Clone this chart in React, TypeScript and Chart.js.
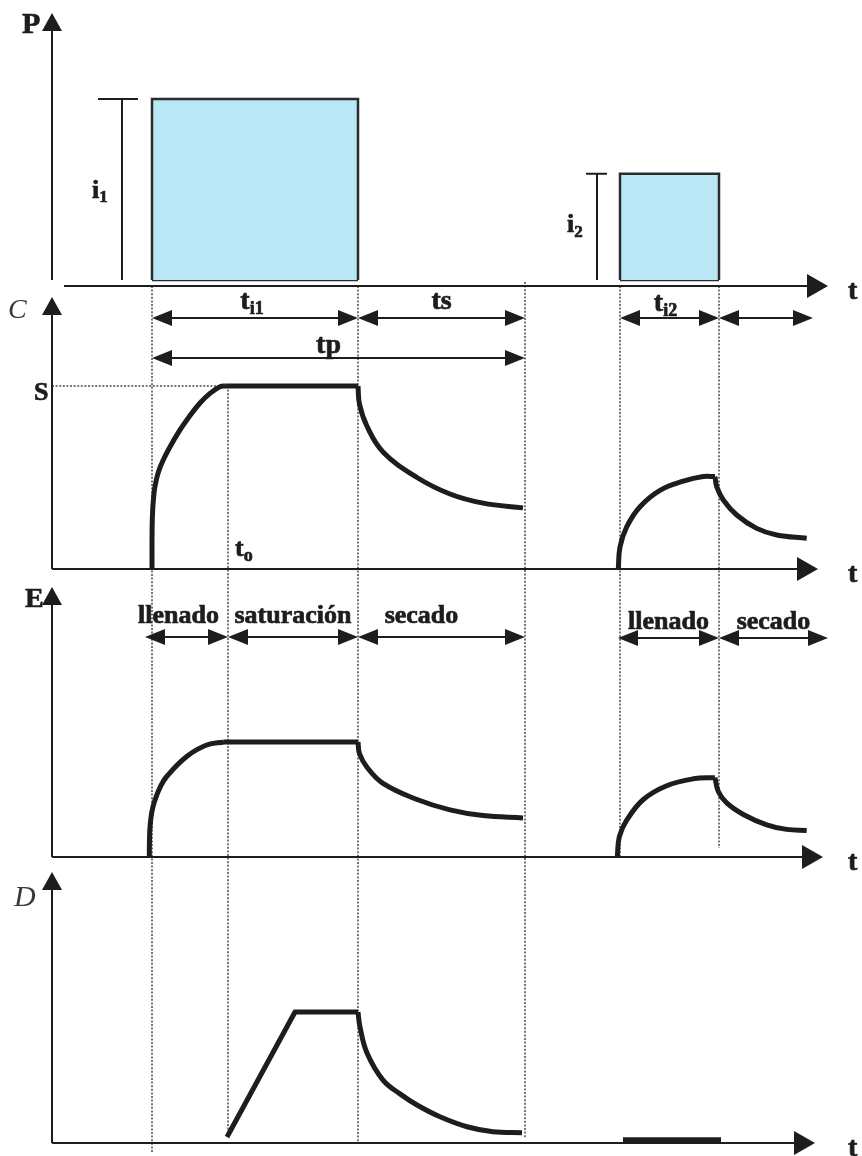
import React, { useEffect, useRef } from 'react';
import { Chart, registerables } from 'chart.js';
Chart.register(...registerables);

const W = 862;
const H = 1156;

// ---- data (time in arbitrary minutes, values in relative units) ----
const stormStart = [10, 56.8];
const stormEnd = [30.6, 66.7];
const intensity = [30, 17.6];
const saturationTime = 17.6; // t_o
const dryEnd = [47.3, 76.1];
const fillStartE = [9.3, 56.6];
const dryEndE = [47.3, 77.6];
const S = 1;

// C: first storm (rise, then saturation plateau, then drying)
const cRiseT1 = [10, 10.03, 10.2, 10.45, 10.74, 11.13, 11.68, 12.8, 13.7, 14.8, 15.8, 16.8, 17.4];
const cRiseV1 = [0, 0.273, 0.415, 0.492, 0.546, 0.596, 0.656, 0.76, 0.831, 0.907, 0.96, 0.996, 1];
const cDecT1 = [30.6, 30.75, 31.5, 33.1, 36.5, 39.8, 43.1, 47.1];
const cDecV1 = [1, 0.9, 0.78, 0.64, 0.5, 0.41, 0.36, 0.334];
// C: second storm
const cRiseT2 = [56.63, 56.8, 57.47, 58.8, 60.8, 63.13, 65.13, 66.3];
const cRiseV2 = [0, 0.12, 0.23, 0.34, 0.43, 0.48, 0.505, 0.505];
const cDecT2 = [66.3, 66.47, 67.13, 68.47, 70.47, 72.47, 75.47];
const cDecV2 = [0.505, 0.45, 0.377, 0.295, 0.222, 0.186, 0.168];

// E: first storm
const eRiseT1 = [9.73, 9.745, 9.8, 9.98, 10.3, 10.83, 11.47, 13.47, 15.47, 17.2];
const eRiseV1 = [0, 0.13, 0.26, 0.39, 0.496, 0.61, 0.7, 0.874, 0.974, 1];
const eDecT1 = [30.6, 30.75, 31.5, 33.1, 36.5, 39.8, 43.1, 47.1];
const eDecV1 = [1, 0.9, 0.78, 0.64, 0.5, 0.41, 0.36, 0.34];
// E: second storm
const eRiseT2 = [56.53, 56.73, 57.47, 59.13, 61.47, 64.13, 66.3];
const eRiseV2 = [0, 0.176, 0.32, 0.5, 0.62, 0.68, 0.69];
const eDecT2 = [66.3, 66.63, 67.47, 69.13, 71.47, 73.47, 75.47];
const eDecV2 = [0.69, 0.57, 0.47, 0.37, 0.28, 0.24, 0.23];

// D
const dRiseT = [17.5, 24.3, 30.6];
const dRiseV = [0.046, 1, 1];
const dDecT = [30.6, 30.8, 31.5, 33.1, 34.8, 36.5, 38.8, 41.5, 44.1, 47.0];
const dDecV = [1, 0.885, 0.687, 0.48, 0.375, 0.29, 0.2, 0.124, 0.086, 0.079];
const dT2 = [57.1, 66.9];
const dV2 = [0.025, 0.025];

// ---- styling / layout ----
const FONT = '"Liberation Serif", "Times New Roman", serif';
const INK = '#1d1d1d';
const DOT = '#4a4a4a';
const BAR_FILL = 'rgb(186,231,246)';

function range(basePx: number, topPx: number, topVal: number) {
  const k = (basePx - topPx) / topVal;
  return { min: -(H - basePx) / k, max: basePx / k };
}

const pts = (ts: number[], vs: number[]) => ts.map((t, i) => ({ x: t, y: vs[i] }));

function curve(label: string, ts: number[], vs: number[], axis: string, smooth = true, extra: any = {}) {
  return {
    label,
    data: pts(ts, vs),
    yAxisID: axis,
    borderColor: INK,
    borderWidth: 5,
    pointRadius: 0,
    fill: false,
    tension: smooth ? 0.4 : 0,
    cubicInterpolationMode: 'default',
    borderJoinStyle: 'round',
    borderCapStyle: 'butt',
    ...extra,
  };
}

function tri(ctx: CanvasRenderingContext2D, tx: number, ty: number, dir: string, len: number, half: number) {
  ctx.beginPath();
  ctx.moveTo(tx, ty);
  if (dir === 'right') {
    ctx.lineTo(tx - len, ty - half);
    ctx.lineTo(tx - len, ty + half);
  } else if (dir === 'left') {
    ctx.lineTo(tx + len, ty - half);
    ctx.lineTo(tx + len, ty + half);
  } else {
    ctx.lineTo(tx - half, ty + len);
    ctx.lineTo(tx + half, ty + len);
  }
  ctx.closePath();
  ctx.fill();
}

function dbl(ctx: CanvasRenderingContext2D, x1: number, x2: number, y: number) {
  const len = 20, half = 8;
  ctx.lineWidth = 2;
  ctx.beginPath();
  ctx.moveTo(x1 + len - 2, y);
  ctx.lineTo(x2 - len + 2, y);
  ctx.stroke();
  tri(ctx, x1, y, 'left', len, half);
  tri(ctx, x2, y, 'right', len, half);
}

function txt(ctx: CanvasRenderingContext2D, s: string, x: number, y: number, font: string, align: CanvasTextAlign = 'left', color = INK, heavy = true) {
  ctx.font = font;
  ctx.fillStyle = color;
  ctx.textAlign = align;
  ctx.textBaseline = 'alphabetic';
  ctx.fillText(s, x, y);
  if (heavy) {
    ctx.strokeStyle = color;
    ctx.lineWidth = 0.7;
    ctx.lineJoin = 'round';
    ctx.strokeText(s, x, y);
  }
}

function subTxt(ctx: CanvasRenderingContext2D, main: string, sub: string, x: number, y: number, size: number, subSize: number, align: string) {
  ctx.font = `bold ${size}px ${FONT}`;
  const w1 = ctx.measureText(main).width;
  ctx.font = `bold ${subSize}px ${FONT}`;
  const w2 = ctx.measureText(sub).width;
  const left = align === 'center' ? x - (w1 + w2) / 2 : x;
  txt(ctx, main, left, y, `bold ${size}px ${FONT}`);
  txt(ctx, sub, left + w1, y + size * 0.18, `bold ${subSize}px ${FONT}`);
}

const AXES = [
  { id: 'yP', tipY: 13, offset: 6, tipX: 828, hStart: 64 },
  { id: 'yC', tipY: 297, offset: 0, tipX: 818, hStart: 0 },
  { id: 'yE', tipY: 587, offset: 0, tipX: 823, hStart: 0 },
  { id: 'yD', tipY: 872, offset: 0, tipX: 815, hStart: 0 },
];

const decor = {
  id: 'decor',
  beforeDatasetsDraw(chart: any) {
    const ctx: CanvasRenderingContext2D = chart.ctx;
    const xs = chart.scales.x;
    const X = (t: number) => xs.getPixelForValue(t);
    const { yP, yC, yE, yD } = chart.scales;
    const ox = X(0);
    const pAxis = yP.getPixelForValue(0) + 6;
    const eAxis = yE.getPixelForValue(0);
    const dAxis = yD.getPixelForValue(0);
    const sy = yC.getPixelForValue(S);
    ctx.save();
    // dotted guides
    ctx.strokeStyle = DOT;
    ctx.lineWidth = 1.5;
    ctx.setLineDash([2, 1.6]);
    const vline = (x: number, y1: number, y2: number) => {
      ctx.beginPath();
      ctx.moveTo(x, y1);
      ctx.lineTo(x, y2);
      ctx.stroke();
    };
    vline(X(stormStart[0]), pAxis, H - 4);
    vline(X(saturationTime), sy, dAxis - 6);
    vline(X(stormEnd[0]), pAxis, dAxis);
    vline(X(dryEnd[0]), pAxis - 4, dAxis - 5);
    vline(X(stormStart[1]), pAxis, eAxis);
    vline(X(stormEnd[1]), pAxis, eAxis - 9);
    ctx.beginPath();
    ctx.moveTo(ox, sy);
    ctx.lineTo(X(saturationTime), sy);
    ctx.stroke();
    ctx.setLineDash([]);

    // axes
    ctx.strokeStyle = INK;
    ctx.fillStyle = INK;
    ctx.lineWidth = 2;
    AXES.forEach((a) => {
      const sc = chart.scales[a.id];
      const base = sc.getPixelForValue(0);
      const ay = base + a.offset;
      ctx.beginPath();
      ctx.moveTo(ox, a.tipY + 15);
      ctx.lineTo(ox, base);
      ctx.stroke();
      tri(ctx, ox, a.tipY, 'up', 18, 10);
      ctx.beginPath();
      ctx.moveTo(a.hStart || ox, ay);
      ctx.lineTo(a.tipX - 18, ay);
      ctx.stroke();
      tri(ctx, a.tipX, ay, 'right', 21, 12);
    });
    ctx.restore();
  },
  afterDatasetsDraw(chart: any) {
    const ctx: CanvasRenderingContext2D = chart.ctx;
    const xs = chart.scales.x;
    const X = (t: number) => xs.getPixelForValue(t);
    const { yP, yC, yE, yD } = chart.scales;
    const pBase = yP.getPixelForValue(0);
    const pAxis = pBase + 6;
    const cAxis = yC.getPixelForValue(0);
    const eAxis = yE.getPixelForValue(0);
    const dAxis = yD.getPixelForValue(0);
    ctx.save();
    ctx.strokeStyle = INK;
    ctx.fillStyle = INK;

    // intensity brackets
    ctx.lineWidth = 2;
    const brackets = [
      { t: stormStart[0], dx: -30, capL: 24, capR: 16 },
      { t: stormStart[1], dx: -23, capL: 11, capR: 10 },
    ];
    brackets.forEach((b, i) => {
      const bx = X(b.t) + b.dx;
      const top = yP.getPixelForValue(intensity[i]);
      ctx.beginPath();
      ctx.moveTo(bx, top);
      ctx.lineTo(bx, pBase);
      ctx.moveTo(bx - b.capL, top);
      ctx.lineTo(bx + b.capR, top);
      ctx.stroke();
    });

    // duration arrows
    const row1 = pAxis + 32;
    const row2 = pAxis + 72;
    dbl(ctx, X(stormStart[0]), X(stormEnd[0]), row1);
    dbl(ctx, X(stormEnd[0]), X(dryEnd[0]), row1);
    dbl(ctx, X(stormStart[0]), X(dryEnd[0]), row2);
    dbl(ctx, X(stormStart[1]), X(stormEnd[1]), row1);
    dbl(ctx, X(stormEnd[1]), X(dryEnd[1]), row1);
    const rowE = cAxis + 68;
    dbl(ctx, X(fillStartE[0]), X(saturationTime), rowE);
    dbl(ctx, X(saturationTime), X(stormEnd[0]), rowE);
    dbl(ctx, X(stormEnd[0]), X(dryEndE[0]), rowE);
    dbl(ctx, X(fillStartE[1]), X(stormEnd[1]), rowE + 1);
    dbl(ctx, X(stormEnd[1]), X(dryEndE[1]), rowE + 1);

    // axis labels
    txt(ctx, 'P', 22, 33, `bold 30px ${FONT}`);
    txt(ctx, 'C', 8, 318, `italic 28px ${FONT}`, 'left', '#3a3a3a', false);
    txt(ctx, 'E', 25, 607, `bold 28px ${FONT}`);
    txt(ctx, 'D', 14, 906, `italic 30px ${FONT}`, 'left', '#3a3a3a', false);
    [pAxis, cAxis, eAxis, dAxis].forEach((ay) => txt(ctx, 't', 848, ay + 13, `bold 28px ${FONT}`));
    txt(ctx, 'S', 34, yC.getPixelForValue(S) + 14, `bold 26px ${FONT}`);

    // intensity labels
    subTxt(ctx, 'i', '1', 92, (yP.getPixelForValue(intensity[0]) + pBase) / 2 + 8, 26, 17, 'left');
    subTxt(ctx, 'i', '2', 567, (yP.getPixelForValue(intensity[1]) + pBase) / 2 + 5, 26, 17, 'left');

    // duration labels
    subTxt(ctx, 't', 'i1', (X(stormStart[0]) + X(stormEnd[0])) / 2 - 3, row1 - 9, 28, 18, 'center');
    txt(ctx, 'ts', (X(stormEnd[0]) + X(dryEnd[0])) / 2, row1 - 9, `bold 28px ${FONT}`, 'center');
    txt(ctx, 'tp', (X(stormStart[0]) + X(dryEnd[0])) / 2 - 10, row2 - 5, `bold 28px ${FONT}`, 'center');
    subTxt(ctx, 't', 'i2', (X(stormStart[1]) + X(stormEnd[1])) / 2 - 4, row1 - 7, 28, 18, 'center');
    subTxt(ctx, 't', 'o', X(saturationTime) + 7, cAxis - 13, 26, 18, 'left');

    // phase labels
    const f = `bold 26px ${FONT}`;
    txt(ctx, 'llenado', (X(fillStartE[0]) + X(saturationTime)) / 2 - 8, rowE - 14, f, 'center');
    txt(ctx, 'saturación', (X(saturationTime) + X(stormEnd[0])) / 2, rowE - 14, f, 'center');
    txt(ctx, 'secado', (X(stormEnd[0]) + X(dryEndE[0])) / 2 - 20, rowE - 14, f, 'center');
    txt(ctx, 'llenado', (X(fillStartE[1]) + X(stormEnd[1])) / 2, rowE - 8, f, 'center');
    txt(ctx, 'secado', (X(stormEnd[1]) + X(dryEndE[1])) / 2, rowE - 8, f, 'center');
    ctx.restore();
  },
};

function phases(name: string, axis: string, rt: number[], rv: number[], dt: number[], dv: number[]) {
  const out: any[] = [curve(`${name} llenado`, rt, rv, axis), curve(`${name} secado`, dt, dv, axis)];
  const rEnd = rt[rt.length - 1];
  const dStart = dt[0];
  if (dStart > rEnd) {
    out.push(curve(`${name} saturación`, [rEnd, dStart], [rv[rv.length - 1], dv[0]], axis, false));
  }
  return out;
}

export default function App() {
  const ref = useRef<HTMLCanvasElement | null>(null);
  useEffect(() => {
    document.body.style.margin = '0';
    if (!ref.current) return;
    const rP = range(280, 99, intensity[0]);
    const rC = range(569, 386, S);
    const rE = range(857, 742, 1);
    const rD = range(1143, 1012, 1);

    const bars: any[] = [];
    stormStart.forEach((s, i) => {
      bars.push({
        label: `lluvia ${i + 1}`,
        yAxisID: 'yP',
        data: pts([s, s, stormEnd[i], stormEnd[i]], [0, intensity[i], intensity[i], 0]),
        borderColor: '#2b2b2b',
        borderWidth: 2.5,
        backgroundColor: BAR_FILL,
        fill: 'origin',
        pointRadius: 0,
        tension: 0,
      });
      bars.push({
        label: `base ${i + 1}`,
        yAxisID: 'yP',
        data: pts([s, stormEnd[i]], [0, 0]),
        borderColor: '#2b2b2b',
        borderWidth: 2.5,
        fill: false,
        pointRadius: 0,
      });
    });

    const chart = new Chart(ref.current, {
      type: 'line',
      data: {
        datasets: [
          ...bars,
          ...phases('C1', 'yC', cRiseT1, cRiseV1, cDecT1, cDecV1),
          ...phases('C2', 'yC', cRiseT2, cRiseV2, cDecT2, cDecV2),
          ...phases('E1', 'yE', eRiseT1, eRiseV1, eDecT1, eDecV1),
          ...phases('E2', 'yE', eRiseT2, eRiseV2, eDecT2, eDecV2),
          curve('D1 subida', dRiseT, dRiseV, 'yD', false),
          curve('D1 secado', dDecT, dDecV, 'yD'),
          curve('D2', dT2, dV2, 'yD', false),
        ] as any,
      },
      options: {
        responsive: false,
        animation: false,
        events: [],
        layout: { padding: { left: 52, right: 10, top: 0, bottom: 0 } },
        plugins: { legend: { display: false }, tooltip: { enabled: false }, title: { display: false } },
        scales: {
          x: { type: 'linear', min: 0, max: 80, display: false },
          yP: { type: 'linear', position: 'left', min: rP.min, max: rP.max, display: false },
          yC: { type: 'linear', position: 'left', min: rC.min, max: rC.max, display: false },
          yE: { type: 'linear', position: 'left', min: rE.min, max: rE.max, display: false },
          yD: { type: 'linear', position: 'left', min: rD.min, max: rD.max, display: false },
        },
      } as any,
      plugins: [decor],
    });
    return () => chart.destroy();
  }, []);
  return (
    <div style={{ position: 'absolute', left: 0, top: 0, width: W, height: H, background: '#fff' }}>
      <canvas ref={ref} width={W} height={H} style={{ display: 'block' }} />
    </div>
  );
}
